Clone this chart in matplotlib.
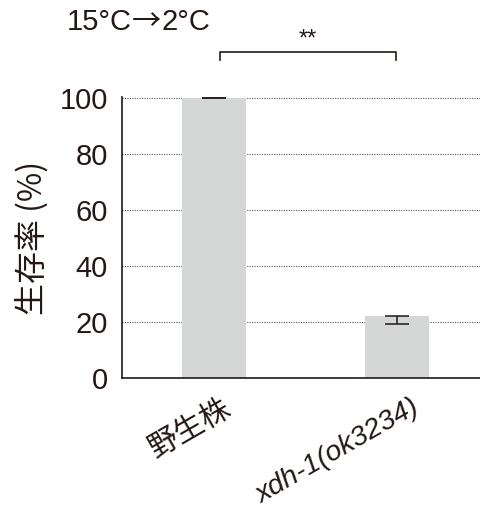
import matplotlib
matplotlib.use('Agg')
import matplotlib.pyplot as plt
import matplotlib.transforms as mtransforms
import numpy as np

plt.rcParams['font.family'] = ['Liberation Sans', 'Noto Sans CJK JP', 'DejaVu Sans']

# data
strains = ['野生株', 'xdh-1(ok3234)']
survival = [100.0, 22.2]
err_low = [0.0, 2.8]
err_high = [0.0, 0.1]
title_parts = ['15°C', '→', '2°C']
sig = '**'

ink = '#231815'
barcol = '#d5d6d6'

fig = plt.figure(figsize=(4.81, 5.11), dpi=100)
ax = fig.add_axes([0.2536, 0.2603, 0.7464, 0.5499])

x = np.arange(len(strains))
ax.bar(x, survival, width=0.35, color=barcol, zorder=2)
ax.errorbar(x, survival, yerr=[err_low, err_high], fmt='none', ecolor=ink,
            elinewidth=1.1, capsize=8.5, capthick=1.1, zorder=3)

ax.set_xlim(-0.503, 1.459)
ax.set_ylim(0, 100.5)
ax.set_yticks([0, 20, 40, 60, 80, 100])
ax.yaxis.grid(True, linestyle=(0, (1, 1.2)), linewidth=0.8, color='#555555', zorder=1)
ax.set_axisbelow(True)

for s in ['top', 'right']:
    ax.spines[s].set_visible(False)
for s in ['left', 'bottom']:
    ax.spines[s].set_color(ink)
    ax.spines[s].set_linewidth(1.2)

ax.tick_params(axis='y', length=0, pad=10, labelsize=21, colors=ink)
ax.tick_params(axis='x', length=0, pad=12, labelsize=21.5, colors=ink)
ax.set_xticks(x)
ax.set_xticklabels(strains)
shifts = [8, 13]
for i, lab in enumerate(ax.get_xticklabels()):
    lab.set_rotation(30)
    lab.set_ha('right')
    lab.set_va('top')
    lab.set_rotation_mode('anchor')
    off = mtransforms.ScaledTranslation(shifts[i] / 100, 0, fig.dpi_scale_trans)
    lab.set_transform(lab.get_transform() + off)
    if i == 1:
        lab.set_style('italic')
        lab.set_fontsize(20.5)

ax.set_ylabel('生存率 (%)', fontsize=23, color=ink, labelpad=8,
              family=['Noto Sans CJK JP', 'Liberation Sans'])

# title, the arrow taken from the CJK font
renderer = fig.canvas.get_renderer()
xpos = 67 / 481
fams = [['Liberation Sans'], ['Noto Sans CJK JP'], ['Liberation Sans']]
for part, fam in zip(title_parts, fams):
    t = fig.text(xpos, 1 - 30 / 511, part, fontsize=21, color=ink, ha='left',
                 va='baseline', family=fam)
    bb = t.get_window_extent(renderer)
    xpos = bb.x1 / fig.bbox.width

# significance bracket
bx = [0.03, 0.995]
ax.plot([bx[0], bx[0], bx[1], bx[1]], [113.6, 116.5, 116.5, 113.6],
        color=ink, linewidth=1.2, clip_on=False)
ax.text(np.mean(bx), 118.9, sig, ha='center', va='baseline', fontsize=17, color=ink)

fig.savefig('out.png', dpi=100)
